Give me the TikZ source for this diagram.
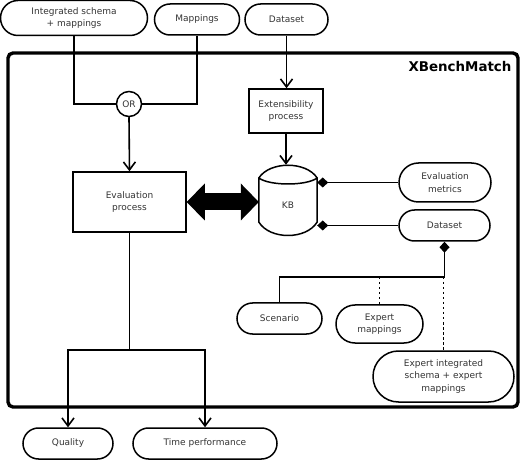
\documentclass[tikz,border=0pt]{standalone}
\usepackage{fontspec}
\setmainfont{DejaVu Sans}
\usetikzlibrary{arrows.meta,calc}
\begin{document}
\begin{tikzpicture}[x=1pt,y=-1pt,
  every node/.style={font=\fontsize{9}{12.5}\selectfont, text=black!80},
  pill/.style={draw, line width=1.5pt, align=center, inner sep=0pt},
  box/.style={draw, line width=1.5pt, align=center, inner sep=0pt},
  conn/.style={line width=1.6pt},
  arr/.style={conn, -{Straight Barb[length=8pt,width=12pt,line width=1.6pt]}},
  dia/.style={conn, {Diamond[length=11pt,width=10pt]}-},
  dots/.style={line width=1.6pt, dash pattern=on 2.5pt off 2.5pt},
]
\useasboundingbox (0,0) rectangle (522,462);

% frame
\node[draw, line width=3.4pt, rounded corners=5pt, minimum width=510pt, minimum height=354pt, inner sep=0pt] (frame) at (263,230) {};
\node[anchor=east, font=\bfseries\fontsize{13.4}{15}\selectfont, text=black] (title) at (515,67) {XBenchMatch};

% top inputs
\node[pill, minimum width=147pt, minimum height=35pt, rounded corners=17.5pt] (is) at (74,18) {Integrated schema\\+ mappings};
\node[pill, minimum width=85pt, minimum height=31pt, rounded corners=15.5pt] (map) at (197,19.5) {Mappings};
\node[pill, minimum width=83pt, minimum height=31pt, rounded corners=15.5pt] (ds0) at (286.5,19.5) {Dataset};

% OR
\node[draw, circle, line width=1.5pt, minimum size=25pt, inner sep=0pt] (or) at (129,104) {OR};

% processes
\node[box, minimum width=113pt, minimum height=60pt] (ep) at (129.5,202) {Evaluation\\process};
\node[box, minimum width=74pt, minimum height=44pt] (ext) at (286,111) {Extensibility\\process};

% KB
\node[minimum width=58pt, minimum height=71pt, inner sep=0pt] (kb) at (288,200.5) {};
\node (kblabel) at (288,205) {KB};
\draw[line width=1.5pt, line join=round]
  (kb.west |- 0,178) .. controls ($(kb.west |- 0,178)+(11,-17)$) and ($(kb.east |- 0,178)+(-11,-17)$) .. (kb.east |- 0,178)
  .. controls ($(kb.east |- 0,178)+(-11,8)$) and ($(kb.west |- 0,178)+(11,8)$) .. (kb.west |- 0,178)
  -- (kb.west |- 0,222)
  .. controls ($(kb.west |- 0,222)+(11,18)$) and ($(kb.east |- 0,222)+(-11,18)$) .. (kb.east |- 0,222)
  -- (kb.east |- 0,178);

% right side
\node[pill, minimum width=92pt, minimum height=39pt, rounded corners=19.5pt] (em) at (445,182.5) {Evaluation\\metrics};
\node[pill, minimum width=91pt, minimum height=31pt, rounded corners=15.5pt] (ds) at (444.5,225.5) {Dataset};
\node[pill, minimum width=85pt, minimum height=31pt, rounded corners=15.5pt] (scen) at (279.5,318.5) {Scenario};
\node[pill, minimum width=87pt, minimum height=38pt, rounded corners=19pt] (xm) at (379.5,324) {Expert\\mappings};
\node[pill, minimum width=141pt, minimum height=51pt, rounded corners=25.5pt] (xis) at (443.5,376.5) {Expert integrated\\schema + expert\\mappings};

% outputs
\node[pill, minimum width=90pt, minimum height=31pt, rounded corners=15.5pt] (q) at (68,443.5) {Quality};
\node[pill, minimum width=144pt, minimum height=31pt, rounded corners=15.5pt] (tp) at (205,443.5) {Time performance};

% connectors
\draw[conn] (is.south) |- (or.west);
\draw[conn] (map.south) |- (or.east);
\draw[arr] (or.south) -- (ep.north);
\draw[arr] (ds0.south) -- (ds0.south |- ext.north);
\draw[arr] (ext.south) -- (ext.south |- kb.north);

\draw[line width=17pt, {Triangle[length=18pt,width=37pt,line width=0pt]}-{Triangle[length=18pt,width=37pt,line width=0pt]}] (ep.east) -- (ep.east -| kb.west);

\draw[dia] (kb.east |- em.west) -- (em.west);
\draw[dia] (kb.east |- ds.west) -- (ds.west);

\coordinate (j) at (443.5,277);
\draw[dia] (ds.south) -- (ds.south |- j) -| (scen.north);
\draw[dots] (xm.north |- j) -- (xm.north);
\draw[dots] (j) -- (xis.north);

\coordinate (br) at (129.5,350);
\draw[conn] (ep.south) -- (br);
\draw[arr] (br) -| (q.north);
\draw[arr] (br) -| (tp.north);
\end{tikzpicture}
\end{document}
